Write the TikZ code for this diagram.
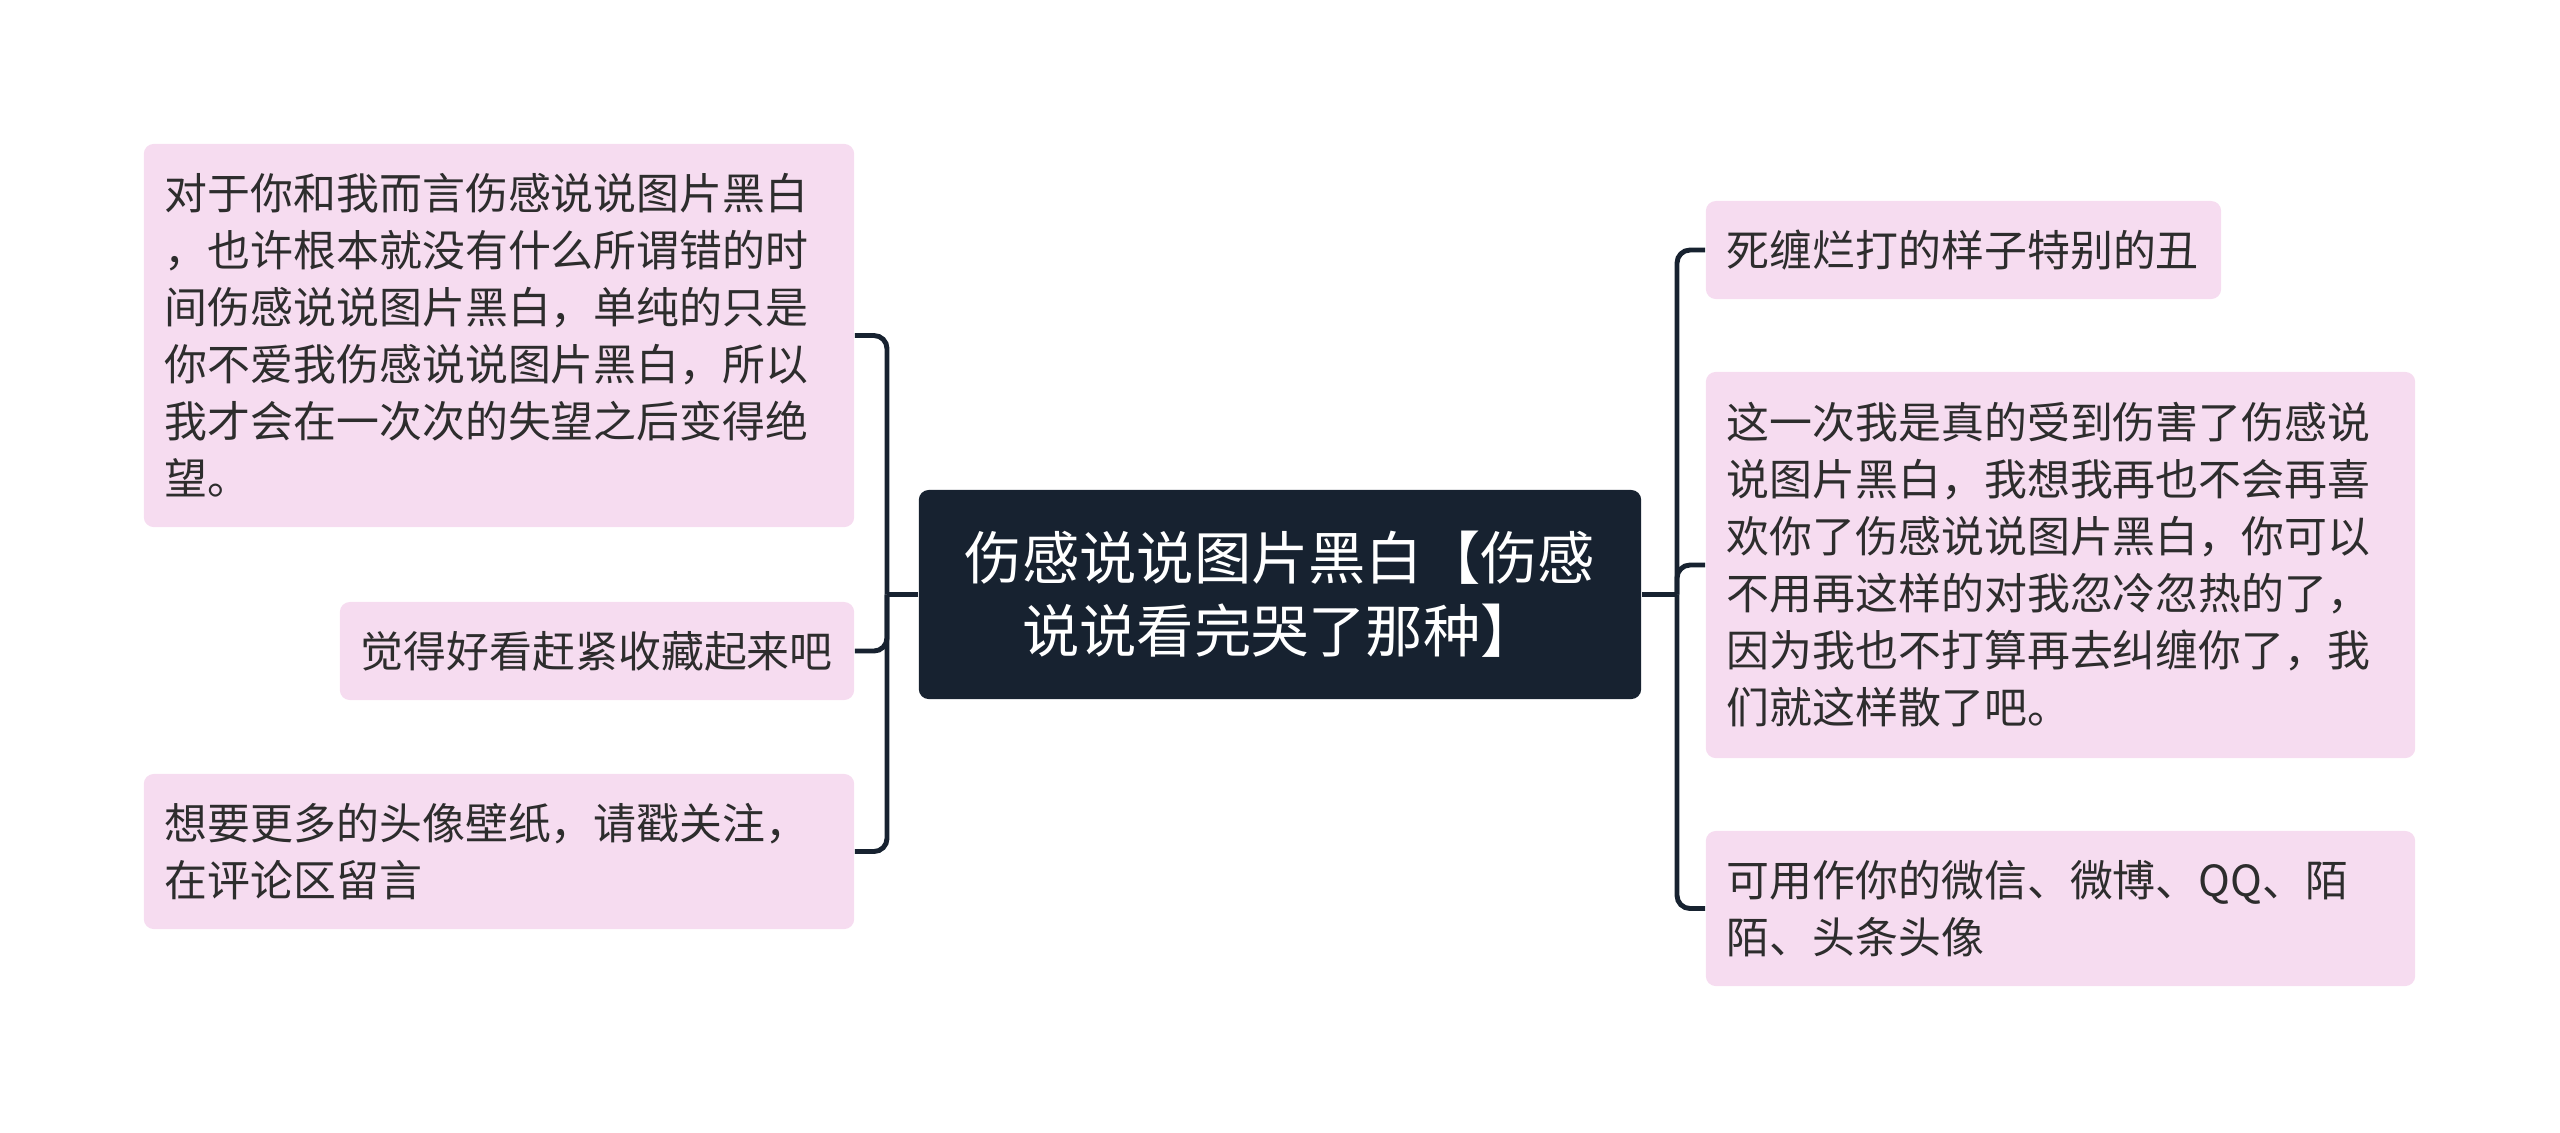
\documentclass[tikz,border=0pt]{standalone}
\usepackage{fontspec}
\usepackage{xcolor}
\usepackage{tikz}
\setmainfont{Noto Sans CJK SC}
\definecolor{leafpink}{HTML}{F6DCF0}
\definecolor{rootnavy}{HTML}{172230}
\definecolor{leaftext}{HTML}{2D2D2D}

\begin{document}
\begin{tikzpicture}[x=0.01cm, y=-0.01cm,
    leaf/.style={fill=leafpink, rounded corners=0.1cm, text=leaftext, align=left,
        inner xsep=0.21cm, inner ysep=0pt, font=\fontsize{12.2}{16.2}\selectfont},
    rootbox/.style={fill=rootnavy, rounded corners=0.1cm, text=white, align=center,
        minimum width=7.22cm, minimum height=2.09cm, font=\fontsize{16.3}{20.7}\selectfont},
    link/.style={draw=rootnavy, line width=1.4pt, rounded corners=0.13cm}]
    \useasboundingbox (0, 0) rectangle (2560, 1132);

    \node[rootbox] (root) at (1280, 594.5) {伤感说说图片黑白【伤感\\说说看完哭了那种】};

    % left side
    \node[leaf, text width=6.68cm, minimum height=3.83cm] (l1) at (499, 335.5) {对于你和我而言伤感说说图片黑白\\，也许根本就没有什么所谓错的时\\间伤感说说图片黑白，单纯的只是\\你不爱我伤感说说图片黑白，所以\\我才会在一次次的失望之后变得绝\\望。};
    \node[leaf, text width=4.72cm, minimum height=0.98cm] (l2) at (597, 651) {觉得好看赶紧收藏起来吧};
    \node[leaf, text width=6.68cm, minimum height=1.55cm] (l3) at (499, 851.5) {想要更多的头像壁纸，请戳关注，\\在评论区留言};

    % right side
    \node[leaf, text width=4.73cm, minimum height=0.98cm] (r1) at (1963.5, 250) {死缠烂打的样子特别的丑};
    \node[leaf, text width=6.67cm, minimum height=3.86cm] (r2) at (2060.5, 565) {这一次我是真的受到伤害了伤感说\\说图片黑白，我想我再也不会再喜\\欢你了伤感说说图片黑白，你可以\\不用再这样的对我忽冷忽热的了，\\因为我也不打算再去纠缠你了，我\\们就这样散了吧。};
    \node[leaf, text width=6.67cm, minimum height=1.55cm] (r3) at (2060.5, 908.5) {可用作你的微信、微博、QQ、陌\\陌、头条头像};

    \coordinate (lj) at (887, 594.5);
    \coordinate (rj) at (1677, 594.5);
    \draw[link] (root.west) -- (lj);
    \draw[link] (lj) |- (l1.east);
    \draw[link] (lj) |- (l2.east);
    \draw[link] (lj) |- (l3.east);
    \draw[link] (root.east) -- (rj);
    \draw[link] (rj) |- (r1.west);
    \draw[link] (rj) |- (r2.west);
    \draw[link] (rj) |- (r3.west);
\end{tikzpicture}
\end{document}
